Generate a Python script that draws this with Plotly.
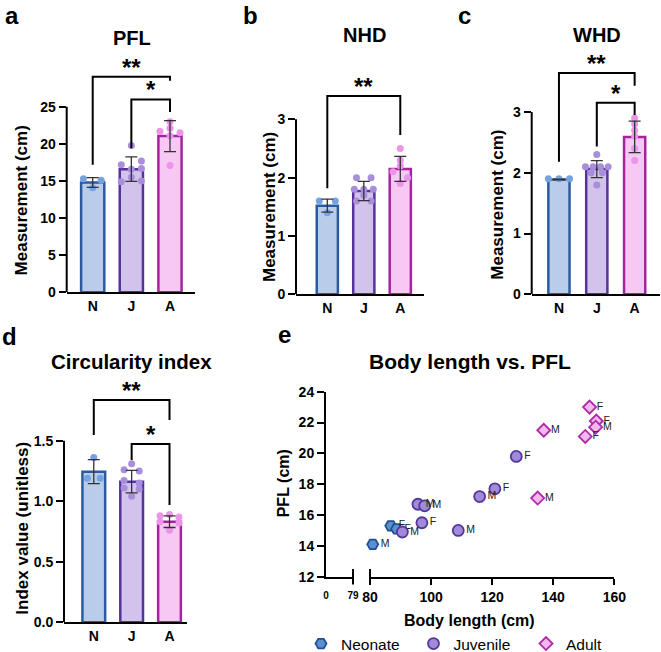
import plotly.graph_objects as go

W, H = 661, 652
FONT = "Liberation Sans, Arial, sans-serif"

# ---------------- data ----------------
groups = ["N", "J", "A"]

# panel a : PFL (cm)
pfl_mean = [14.8, 16.6, 21.05]
pfl_sd = [0.65, 1.65, 2.1]
pfl_N = [15.3, 15.1, 14.1]
pfl_J = [19.8, 17.7, 17.2, 16.7, 16.6, 15.5, 15.0, 14.9]
pfl_A = [23.0, 22.1, 21.7, 21.5, 21.1, 17.1]
pfl_jN = [-0.24, 0.22, 0.0]
pfl_jJ = [0.0, 0.26, -0.26, 0.26, 0.0, 0.0, 0.26, -0.26]
pfl_jA = [0.0, 0.0, -0.26, 0.26, 0.0, 0.0]

# panel b : NHD (cm)
nhd_mean = [1.52, 1.77, 2.15]
nhd_sd = [0.11, 0.165, 0.215]
nhd_N = [1.6, 1.6, 1.4]
nhd_J = [2.0, 2.0, 1.8, 1.8, 1.8, 1.7, 1.6, 1.6]
nhd_A = [2.5, 2.3, 2.2, 2.1, 2.0, 1.9]
nhd_jN = [-0.22, 0.22, 0.0]
nhd_jJ = [-0.2, 0.2, -0.26, 0.0, 0.26, 0.0, -0.2, 0.2]
nhd_jA = [0.0, 0.0, 0.0, -0.2, 0.2, 0.0]

# panel c : WHD (cm)
whd_mean = [1.89, 2.06, 2.59]
whd_sd = [0.005, 0.14, 0.26]
whd_N = [1.9, 1.9, 1.9]
whd_J = [2.3, 2.1, 2.1, 2.1, 2.1, 2.0, 2.0, 1.8]
whd_A = [2.9, 2.8, 2.7, 2.6, 2.4, 2.2]
whd_jN = [-0.28, 0.0, 0.28]
whd_jJ = [0.0, -0.3, -0.1, 0.1, 0.3, -0.15, 0.15, 0.0]
whd_jA = [0.0, 0.0, 0.0, 0.0, 0.0, 0.0]

# panel d : circularity index
ci_mean = [1.244, 1.161, 0.831]
ci_sd = [0.099, 0.093, 0.048]
ci_N = [1.36, 1.19, 1.19]
ci_J = [1.31, 1.26, 1.25, 1.17, 1.15, 1.11, 1.10, 1.04]
ci_A = [0.89, 0.88, 0.87, 0.83, 0.82, 0.76]
ci_jN = [0.0, -0.17, 0.17]
ci_jJ = [0.0, -0.2, 0.2, -0.2, 0.2, -0.2, 0.2, 0.0]
ci_jA = [0.0, -0.25, 0.25, -0.25, 0.25, 0.0]

# panel e : body length vs PFL
neo_bl = [86.8, 88.7, 80.9]
neo_pfl = [15.3, 15.1, 14.1]
neo_sex = ["F", "F", "M"]
juv_bl = [90.6, 95.7, 97.9, 97.0, 108.9, 115.9, 120.9, 127.9]
juv_pfl = [14.9, 16.7, 16.6, 15.5, 15.0, 17.2, 17.7, 19.8]
juv_sex = ["M", "M", "M", "F", "M", "M", "F", "F"]
adu_bl = [151.9, 154.1, 153.9, 136.9, 150.5, 134.9]
adu_pfl = [23.0, 22.1, 21.7, 21.5, 21.1, 17.1]
adu_sex = ["F", "F", "M", "M", "F", "M"]

bar_fill = ["#b9cdeb", "#d1c3eb", "#f6c8f3"]
bar_line = ["#2c5aa0", "#57329c", "#a6239e"]
dot_col = ["#76a3df", "#a88edb", "#ec94e7"]


def px(x):
    return x / W


def py(y):
    return 1 - y / H


fig = go.Figure()
shapes = []
annotations = []

# panel geometry (pixel layout) and annotation heights
panels = [
    dict(mean=pfl_mean, sd=pfl_sd, pts=[pfl_N, pfl_J, pfl_A], jit=[pfl_jN, pfl_jJ, pfl_jA],
         left=66.7, right=195, y0=292.3, ppu=7.42, top=55, xr=[-0.673, 2.647], ymax=25,
         ticks=[0, 5, 10, 15, 20, 25], ticktext=None, width=0.6,
         brackets=[(0, 2, 29.06, 17.2, 28.5, "**"), (1, 2, 26.0, 19.4, 24.3, "*")]),
    dict(mean=nhd_mean, sd=nhd_sd, pts=[nhd_N, nhd_J, nhd_A], jit=[nhd_jN, nhd_jJ, nhd_jA],
         left=296, right=424, y0=294.3, ppu=58.33, top=80, xr=[-0.858, 2.65], ymax=3,
         ticks=[0, 1, 2, 3], ticktext=None, width=0.58,
         brackets=[(0, 2, 3.40, 1.82, 2.73, "**")]),
    dict(mean=whd_mean, sd=whd_sd, pts=[whd_N, whd_J, whd_A], jit=[whd_jN, whd_jJ, whd_jA],
         left=531.7, right=660, y0=294.3, ppu=60.78, top=65, xr=[-0.72, 2.67], ymax=3,
         ticks=[0, 1, 2, 3], ticktext=None, width=0.56,
         brackets=[(0, 2, 3.64, 2.18, 3.43, "**"), (1, 2, 3.15, 2.43, 2.95, "*")]),
    dict(mean=ci_mean, sd=ci_sd, pts=[ci_N, ci_J, ci_A], jit=[ci_jN, ci_jJ, ci_jA],
         left=64, right=187.3, y0=622.3, ppu=121.1, top=390, xr=[-0.787, 2.47], ymax=1.5,
         ticks=[0, 0.5, 1.0, 1.5], ticktext=["0.0", "0.5", "1.0", "1.5"], width=0.6,
         brackets=[(0, 2, 1.836, 1.547, 1.67, "**"), (1, 2, 1.472, 1.34, 0.969, "*")]),
]

layout_axes = {}
for i, p in enumerate(panels):
    n = i + 1
    xa = "x" if n == 1 else f"x{n}"
    ya = "y" if n == 1 else f"y{n}"
    xkey = "xaxis" if n == 1 else f"xaxis{n}"
    ykey = "yaxis" if n == 1 else f"yaxis{n}"
    ytop = (p["y0"] - p["top"]) / p["ppu"]

    fig.add_trace(go.Bar(x=[0, 1, 2], y=p["mean"], width=p["width"],
                         marker=dict(color=bar_fill, line=dict(color=bar_line, width=2.5)),
                         xaxis=xa, yaxis=ya, showlegend=False, hoverinfo="skip"))
    xs, ys, cs = [], [], []
    for g in range(3):
        for v, j in zip(p["pts"][g], p["jit"][g]):
            xs.append(g + j)
            ys.append(v)
            cs.append(dot_col[g])
    fig.add_trace(go.Scatter(x=xs, y=ys, mode="markers",
                             marker=dict(color=cs, size=7, line=dict(width=0)),
                             xaxis=xa, yaxis=ya, showlegend=False, hoverinfo="skip",
                             cliponaxis=False))
    fig.add_trace(go.Scatter(x=[0, 1, 2], y=p["mean"], mode="markers",
                             marker=dict(size=1, color="rgba(0,0,0,0)"),
                             error_y=dict(type="data", array=p["sd"], color="#333333",
                                          thickness=1.3, width=6),
                             xaxis=xa, yaxis=ya, showlegend=False, hoverinfo="skip"))

    layout_axes[xkey] = dict(domain=[px(p["left"]), px(p["right"])], range=p["xr"],
                             anchor=ya, tickvals=[0, 1, 2], ticktext=groups,
                             showline=True, linewidth=2, linecolor="black", ticks="",
                             showgrid=False, zeroline=False,
                             tickfont=dict(family=FONT, size=14, color="black", weight="bold"))
    ydict = dict(domain=[py(p["y0"]), py(p["top"])], range=[0, ytop], anchor=xa,
                 tickvals=p["ticks"], showline=False, ticks="outside", ticklen=7,
                 tickwidth=2, tickcolor="black", showgrid=False, zeroline=False,
                 tickfont=dict(family=FONT, size=14, color="black", weight="bold"))
    if p["ticktext"]:
        ydict["ticktext"] = p["ticktext"]
    layout_axes[ykey] = ydict

    shapes.append(dict(type="line", xref=f"{xa} domain", yref=ya, x0=0, x1=0,
                       y0=0, y1=p["ymax"], line=dict(color="black", width=2)))
    for (g0, g1, yh, yl0, yl1, stars) in p["brackets"]:
        shapes.append(dict(type="path", xref=xa, yref=ya,
                           path=f"M {g0},{yl0} L {g0},{yh} L {g1},{yh} L {g1},{yl1}",
                           line=dict(color="black", width=2)))
        annotations.append(dict(x=(g0 + g1) / 2, y=yh, xref=xa, yref=ya, text=stars,
                                showarrow=False, yanchor="bottom", yshift=-6,
                                font=dict(family=FONT, size=24, color="black", weight="bold")))

# ---------------- panel e ----------------
e_left, e_break_l, e_break_r, e_right = 326, 353, 370, 614.3
e_y0, e_ytop = 576.7, 391.7

marker_styles = [
    ("Neonate", neo_bl, neo_pfl, neo_sex, "hexagon2", "#5b8fd0", "#214f92", 11),
    ("Juvenile", juv_bl, juv_pfl, juv_sex, "circle", "#a08ad9", "#53379a", 11),
    ("Adult", adu_bl, adu_pfl, adu_sex, "diamond", "#f3b9ef", "#b02aa8", 10),
]
for name, bx, by, sx, sym, fc, lc, sz in marker_styles:
    fig.add_trace(go.Scatter(x=bx, y=by, mode="markers+text", name=name, text=sx,
                             textposition="middle right",
                             textfont=dict(family=FONT, size=10.5, color="#222222"),
                             marker=dict(symbol=sym, size=sz, color=fc,
                                         line=dict(color=lc, width=1.8)),
                             xaxis="x5", yaxis="y5", cliponaxis=False, hoverinfo="skip"))

# axis break marks
fig.add_trace(go.Scatter(x=[79], y=[12], mode="markers", xaxis="x6", yaxis="y5",
                         marker=dict(symbol="line-ns", size=11, color="black",
                                     line=dict(color="black", width=2)),
                         cliponaxis=False, showlegend=False, hoverinfo="skip"))
fig.add_trace(go.Scatter(x=[80], y=[12], mode="markers", xaxis="x5", yaxis="y5",
                         marker=dict(symbol="line-ns", size=11, color="black",
                                     line=dict(color="black", width=2)),
                         cliponaxis=False, showlegend=False, hoverinfo="skip"))

layout_axes["xaxis5"] = dict(domain=[px(e_break_r), px(e_right)], range=[80, 160], anchor="y5",
                             tickvals=[80, 100, 120, 140, 160], showline=True, linewidth=2,
                             linecolor="black", ticks="outside", ticklen=6, tickwidth=2,
                             tickcolor="black", showgrid=False, zeroline=False,
                             tickfont=dict(family=FONT, size=14, color="black", weight="bold"))
layout_axes["xaxis6"] = dict(domain=[px(e_left), px(e_break_l)], range=[0, 79], anchor="y5",
                             tickvals=[0, 79], showline=True, linewidth=2, linecolor="black",
                             ticks="", showgrid=False, zeroline=False, ticklabelstandoff=8,
                             tickfont=dict(family=FONT, size=10, color="black", weight="bold"))
layout_axes["yaxis5"] = dict(domain=[py(e_y0), py(e_ytop)], range=[12, 24], anchor="x6",
                             tickvals=[12, 14, 16, 18, 20, 22, 24], showline=True, linewidth=2,
                             linecolor="black", ticks="outside", ticklen=7, tickwidth=2,
                             tickcolor="black", showgrid=False, zeroline=False,
                             tickfont=dict(family=FONT, size=14, color="black", weight="bold"))


def text_ann(t, x, y, size, bold=True, angle=0, xanchor="center", yanchor="middle"):
    annotations.append(dict(text=t, x=px(x), y=py(y), xref="paper", yref="paper",
                            showarrow=False, textangle=angle, xanchor=xanchor,
                            yanchor=yanchor,
                            font=dict(family=FONT, size=size, color="black",
                                      weight="bold" if bold else "normal")))


# titles
text_ann("PFL", 131.7, 38.3, 20)
text_ann("NHD", 364, 35, 20)
text_ann("WHD", 596.7, 35, 20)
text_ann("Circularity index", 131.7, 361.7, 20.5)
text_ann("Body length vs. PFL", 470, 361.7, 21)
# panel letters
text_ann("a", 3, 0, 24, xanchor="left", yanchor="top")
text_ann("b", 241, 0, 24, xanchor="left", yanchor="top")
text_ann("c", 456, 0, 24, xanchor="left", yanchor="top")
text_ann("d", 0, 321, 24, xanchor="left", yanchor="top")
text_ann("e", 276, 319, 24, xanchor="left", yanchor="top")
# axis titles
text_ann("Measurement (cm)", 21.7, 200.7, 17, angle=-90)
text_ann("Measurement (cm)", 269.3, 206.7, 17, angle=-90)
text_ann("Measurement (cm)", 496.7, 205, 17, angle=-90)
text_ann("Index value (unitless)", 21.7, 528, 17, angle=-90)
text_ann("PFL (cm)", 283, 483.3, 16, angle=-90)
text_ann("Body length (cm)", 470, 620, 16)

fig.update_layout(
    width=W, height=H, margin=dict(l=0, r=0, t=0, b=0, autoexpand=False),
    paper_bgcolor="white", plot_bgcolor="rgba(0,0,0,0)",
    font=dict(family=FONT, color="black"),
    shapes=shapes, annotations=annotations,
    barmode="overlay",
    legend=dict(orientation="h", x=px(301), y=py(644), xanchor="left", yanchor="middle",
                font=dict(family=FONT, size=15.5, color="black"),
                entrywidth=67.5, entrywidthmode="pixels",
                bgcolor="rgba(0,0,0,0)", itemclick=False),
    **layout_axes,
)

fig.write_html("out.html")
